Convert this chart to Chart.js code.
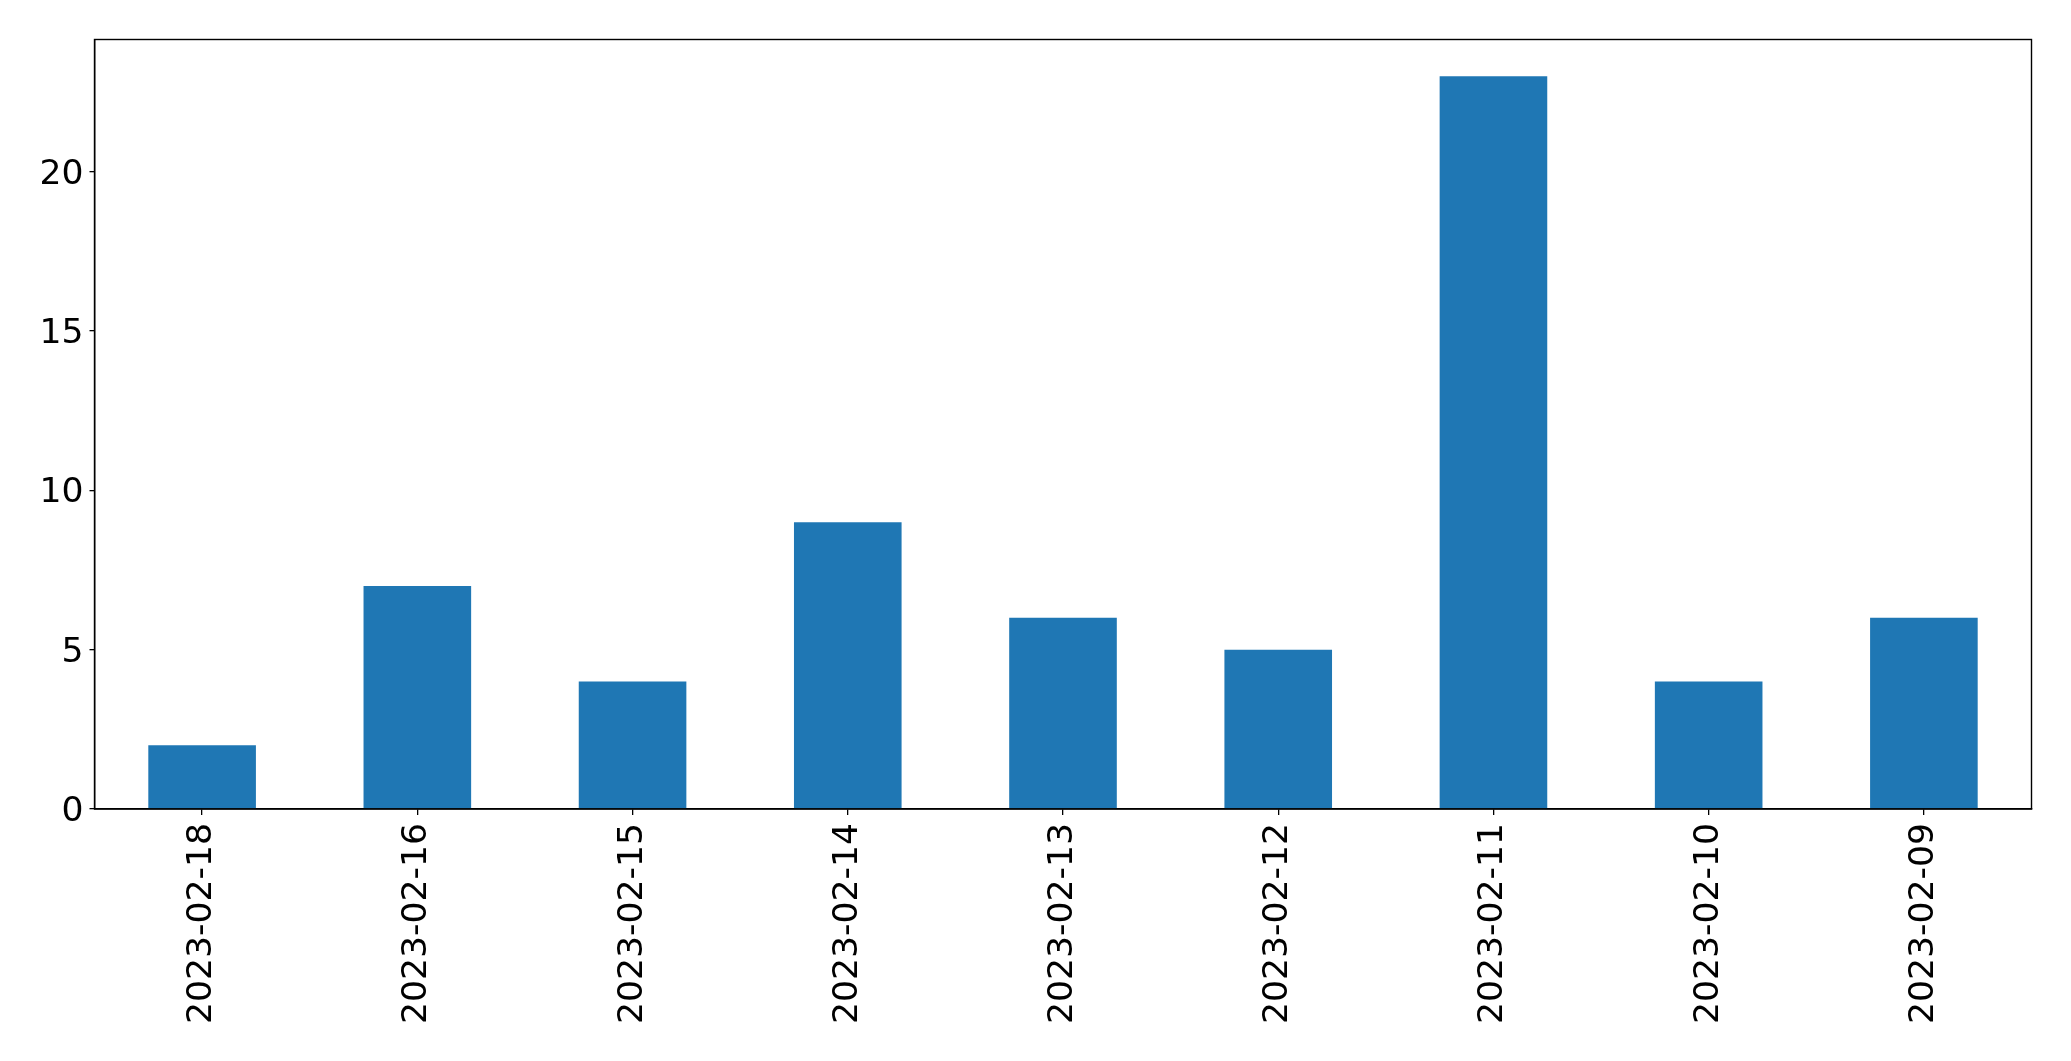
<!DOCTYPE html>
<html>
<head>
<meta charset="utf-8">
<script src="https://cdn.jsdelivr.net/npm/chart.js@4"></script>
<style>
html,body{margin:0;padding:0;background:#fff;}
#wrap{width:2071px;height:1061px;position:relative;}
</style>
</head>
<body>
<div id="wrap"><canvas id="c" width="2071" height="1061"></canvas></div>
<script>
const categories = ["2023-02-18","2023-02-16","2023-02-15","2023-02-14","2023-02-13","2023-02-12","2023-02-11","2023-02-10","2023-02-09"];
const counts = [2,7,4,9,6,5,23,4,6];
const yTicks = [0,5,10,15,20];
const yMax = 24.15;

const frame = {
  id: 'frame',
  afterDraw(chart) {
    const a = chart.chartArea, ctx = chart.ctx;
    ctx.save();
    ctx.strokeStyle = '#000';
    ctx.lineWidth = 1.4;
    ctx.strokeRect(a.left, a.top, a.right - a.left, a.bottom - a.top);
    ctx.restore();
  }
};

new Chart(document.getElementById('c'), {
  type: 'bar',
  data: {
    labels: categories,
    datasets: [{
      data: counts,
      backgroundColor: '#1f77b4',
      borderWidth: 0,
      barPercentage: 0.5,
      categoryPercentage: 1.0
    }]
  },
  options: {
    responsive: false,
    animation: false,
    devicePixelRatio: 1,
    layout: { padding: { top: 39.5, right: 39.5, bottom: 0, left: 0 } },
    plugins: { legend: { display: false }, tooltip: { enabled: false } },
    scales: {
      x: {
        offset: true,
        grid: { display: true, offset: false, drawOnChartArea: false, drawTicks: true, tickLength: 6, color: '#000', lineWidth: 1.3 },
        border: { display: true, color: '#000', width: 1.4 },
        ticks: {
          color: '#000',
          font: { family: 'DejaVu Sans', size: 34.6 },
          minRotation: 90, maxRotation: 90,
          padding: 8,
          autoSkip: false
        },
        afterFit(s) { s.height = 252; }
      },
      y: {
        min: 0,
        max: yMax,
        grid: { display: true, drawOnChartArea: false, drawTicks: true, tickLength: 5, color: '#000', lineWidth: 1.3 },
        border: { display: true, color: '#000', width: 1.4 },
        afterBuildTicks(s) { s.ticks = yTicks.map(v => ({ value: v })); },
        ticks: {
          color: '#000',
          font: { family: 'DejaVu Sans', size: 34.6 },
          padding: 6,
          labelOffset: 3,
          callback: v => String(v)
        },
        afterFit(s) { s.width = 94.5; }
      }
    }
  },
  plugins: [frame]
});
</script>
</body>
</html>
